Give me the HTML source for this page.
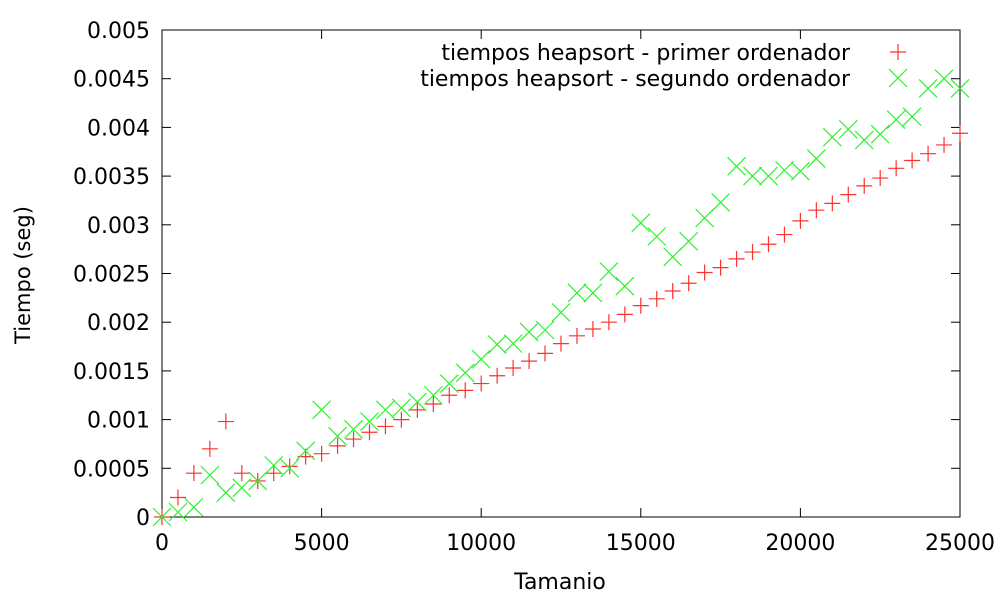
<!DOCTYPE html>
<html><head><meta charset="utf-8"><style>
html,body{margin:0;padding:0;background:#fff;}
svg{display:block;font-family:"DejaVu Sans","Liberation Sans",sans-serif;}
</style></head><body>
<svg id="chart" width="1000" height="600" viewBox="0 0 1000 600">
<g id="axes"></g>
<g id="marks"></g>
<g id="legend"></g>
<text x="560" y="589" font-size="22" text-anchor="middle" fill="#000">Tamanio</text>
<text transform="translate(30,275) rotate(-90)" font-size="21" text-anchor="middle" fill="#000">Tiempo (seg)</text>
</svg>
<script>
const xs = [0,500,1000,1500,2000,2500,3000,3500,4000,4500,5000,5500,6000,6500,7000,7500,8000,8500,9000,9500,10000,10500,11000,11500,12000,12500,13000,13500,14000,14500,15000,15500,16000,16500,17000,17500,18000,18500,19000,19500,20000,20500,21000,21500,22000,22500,23000,23500,24000,24500,25000];
const primer = [0,0.0002,0.00045,0.0007,0.00098,0.00045,0.00037,0.00045,0.00052,0.00062,0.00065,0.00073,0.0008,0.00087,0.00093,0.001,0.0011,0.00116,0.00125,0.0013,0.00137,0.00145,0.00153,0.0016,0.00168,0.00178,0.00186,0.00193,0.002,0.00208,0.00217,0.00224,0.00232,0.0024,0.00251,0.00256,0.00265,0.00272,0.0028,0.0029,0.00304,0.00315,0.00322,0.00331,0.0034,0.00348,0.00358,0.00366,0.00373,0.00382,0.00394];
const segundo = [0,0.00005,0.0001,0.00043,0.00025,0.0003,0.00037,0.00053,0.0005,0.00068,0.0011,0.00083,0.0009,0.00098,0.0011,0.00112,0.00118,0.00125,0.00137,0.00148,0.00162,0.00177,0.00178,0.0019,0.00192,0.0021,0.0023,0.0023,0.00252,0.00237,0.00302,0.00288,0.00267,0.00283,0.00307,0.00323,0.0036,0.0035,0.0035,0.00356,0.00355,0.00368,0.0039,0.00398,0.00387,0.00393,0.00408,0.00411,0.0044,0.0045,0.0044];
const xTicks = [0,5000,10000,15000,20000,25000];
const yTicks = [0,0.0005,0.001,0.0015,0.002,0.0025,0.003,0.0035,0.004,0.0045,0.005];
const yTickLabels = ["0","0.0005","0.001","0.0015","0.002","0.0025","0.003","0.0035","0.004","0.0045","0.005"];

const L=162,R=960,T=30,B=517;
const sx=v=>L+(v-0)/(25000-0)*(R-L);
const sy=v=>B-(v-0)/(0.005-0)*(B-T);
const NS="http://www.w3.org/2000/svg";
function mk(tag,attrs,parent){const e=document.createElementNS(NS,tag);for(const k in attrs)e.setAttribute(k,attrs[k]);parent.appendChild(e);return e;}
const axes=document.getElementById('axes'),marks=document.getElementById('marks'),legend=document.getElementById('legend');

let frame=mk('rect',{x:L,y:T,width:R-L,height:B-T,fill:'none',stroke:'#000','stroke-width':1},axes);


xTicks.forEach(t=>{
  const x=sx(t);
  let a=mk('line',{x1:x,y1:B,x2:x,y2:B-9,stroke:'#000'},axes);
  
  
  let b=mk('line',{x1:x,y1:T,x2:x,y2:T+9,stroke:'#000'},axes);
  
  
  let tx=mk('text',{x:x,y:B+33,'font-size':22,'text-anchor':'middle',fill:'#000'},axes);
  tx.textContent=String(t);
  
  
});
yTicks.forEach((t,i)=>{
  const y=sy(t);
  let a=mk('line',{x1:L,y1:y,x2:L+9,y2:y,stroke:'#000'},axes);
  
  
  let b=mk('line',{x1:R,y1:y,x2:R-9,y2:y,stroke:'#000'},axes);
  
  
  let tx=mk('text',{x:L-12,y:y+8,'font-size':22,'text-anchor':'end',fill:'#000'},axes);
  tx.textContent=yTickLabels[i];
  
  
});
function plus(x,y,p){const g=mk('path',{d:`M${x-8},${y}H${x+8}M${x},${y-8}V${y+8}`,stroke:'#ff3030','stroke-width':1.2,fill:'none'},p);return g;}
function cross(x,y,p){const g=mk('path',{d:`M${x-9},${y-9}L${x+9},${y+9}M${x-9},${y+9}L${x+9},${y-9}`,stroke:'#30f030','stroke-width':1.2,fill:'none'},p);return g;}
xs.forEach((v,i)=>{
  const m=plus(sx(v),sy(primer[i]),marks);
  
  
});
xs.forEach((v,i)=>{
  const m=cross(sx(v),sy(segundo[i]),marks);
  
  
});
let t1=mk('text',{x:850,y:60,'font-size':22,'text-anchor':'end',fill:'#000'},legend);
t1.textContent='tiempos heapsort - primer ordenador';


let m1=plus(898,52,legend);


let t2=mk('text',{x:850,y:86,'font-size':22,'text-anchor':'end',fill:'#000'},legend);
t2.textContent='tiempos heapsort - segundo ordenador';


let m2=cross(898,78,legend);


</script>
</body></html>
